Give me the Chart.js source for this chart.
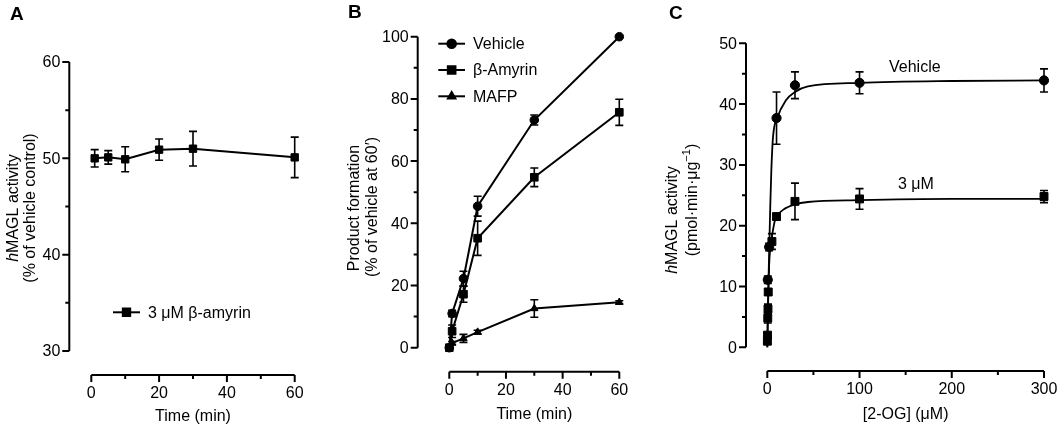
<!DOCTYPE html>
<html>
<head>
<meta charset="utf-8">
<script src="https://cdn.jsdelivr.net/npm/chart.js@4.4.0/dist/chart.umd.min.js"></script>
<style>
  body { margin: 0; background: #fff; width: 1060px; height: 428px; overflow: hidden; position: relative; }
  canvas { position: absolute; top: 0; }
</style>
</head>
<body>
<canvas id="chart-a" width="340" height="428" style="left:0"></canvas>
<canvas id="chart-b" width="340" height="428" style="left:340px"></canvas>
<canvas id="chart-c" width="405" height="428" style="left:655px"></canvas>
<script>
const FONT = '"Liberation Sans", Arial, Helvetica, sans-serif';

// --- panel A: beta-amyrin time course
const timeA = [1, 5, 10, 20, 30, 60];
const amyrinA = [50.0, 50.1, 49.9, 50.9, 51.0, 50.1];
const amyrinErrA = [0.9, 0.7, 1.3, 1.1, 1.8, 2.1];
const yTicksA = [30, 40, 50, 60];
const yMinorA = [35, 45, 55];
const xTicksA = [0, 20, 40, 60];
const xMinorA = [10, 30, 50];

// --- panel B: product formation
const timeB = [0, 1, 5, 10, 30, 60];
const vehicleB = [0, 11.0, 22.2, 45.5, 73.2, 100];
const vehicleErrB = [0, 1.0, 2.4, 3.2, 1.6, 0];
const amyrinB = [0, 5.3, 17.2, 35.2, 54.8, 75.7];
const amyrinErrB = [0, 2.0, 2.6, 5.5, 3.0, 4.2];
const mafpB = [0, 1.5, 3.0, 5.0, 12.6, 14.6];
const mafpErrB = [0, 0.5, 1.3, 0.6, 2.8, 0.5];
const yTicksB = [0, 20, 40, 60, 80, 100];
const yMinorB = [10, 30, 50, 70, 90];
const xTicksB = [0, 20, 40, 60];
const xMinorB = [10, 30, 50];

// --- panel C: 2-OG saturation
const ogVehicle = [0.5, 2, 10, 30, 100, 300];
const vehicleC = [11.1, 16.5, 37.7, 43.1, 43.5, 43.9];
const vehicleErrC = [0.6, 0.6, 4.3, 2.2, 1.8, 1.9];
const ogAmyrin = [0.1, 0.25, 0.5, 0.75, 1, 5, 10, 30, 100, 300];
const amyrinC = [1.0, 2.0, 4.8, 6.3, 9.1, 17.4, 21.5, 24.0, 24.4, 24.8];
const amyrinErrC = [0.4, 0.4, 0.8, 0.8, 0.5, 1.3, 0.5, 3.0, 1.7, 1.0];
const fitOgVehicle = [0, 1, 2, 2.6, 3.3, 4.4, 6.2, 10.8, 20, 30, 44, 100, 200, 300];
const fitVehicle = [0, 9, 15.5, 19.3, 23.7, 29.2, 34.6, 37.7, 40.6, 42.0, 42.9, 43.5, 43.8, 43.9];
const fitOgAmyrin = [0, 1, 2, 3, 4.4, 6.2, 8, 11.6, 17, 30, 44, 100, 200, 300];
const fitAmyrin = [0, 8, 13.5, 16, 17.6, 19.3, 20.7, 21.8, 22.6, 23.5, 23.9, 24.2, 24.4, 24.4];
const yTicksC = [0, 10, 20, 30, 40, 50];
const yMinorC = [5, 15, 25, 35, 45];
const xTicksC = [0, 100, 200, 300];
const xMinorC = [50, 150, 250];

function pts(xs, ys) {
  return xs.map((x, i) => ({ x: x, y: ys[i] }));
}

// draws rotated/mixed text made of segments [{t, italic, sup}]
function drawRich(ctx, segs, cx, cy, size) {
  const f = (s) => (s.italic ? 'italic ' : '') + (s.sup ? Math.round(size * 0.68) : size) + 'px ' + FONT;
  let w = 0;
  segs.forEach(s => { ctx.font = f(s); w += ctx.measureText(s.t).width; });
  let x = cx - w / 2;
  ctx.textBaseline = 'middle';
  ctx.textAlign = 'left';
  segs.forEach(s => {
    ctx.font = f(s);
    ctx.fillText(s.t, x, s.sup ? cy - size * 0.38 : cy);
    x += ctx.measureText(s.t).width;
  });
}

const panelPlugin = {
  id: 'panel',
  beforeDatasetsDraw(chart) {
    const { ctx, scales: { x, y } } = chart;
    ctx.save();
    ctx.strokeStyle = '#000';
    ctx.lineWidth = 1.6;
    chart.data.datasets.forEach(ds => {
      if (!ds.errors) return;
      const cap = ds.capWidth || 4;
      ds.data.forEach((p, i) => {
        const e = ds.errors[i];
        if (!e) return;
        const px = x.getPixelForValue(p.x);
        const top = y.getPixelForValue(p.y + e);
        const bot = y.getPixelForValue(p.y - e);
        ctx.beginPath();
        ctx.moveTo(px, top); ctx.lineTo(px, bot);
        ctx.moveTo(px - cap, top); ctx.lineTo(px + cap, top);
        ctx.moveTo(px - cap, bot); ctx.lineTo(px + cap, bot);
        ctx.stroke();
      });
    });
    ctx.restore();
  },
  afterDraw(chart, args, o) {
    const { ctx, scales: { x, y } } = chart;
    ctx.save();
    ctx.fillStyle = '#000';
    ctx.strokeStyle = '#000';
    ctx.lineWidth = 2;

    // y axis
    const yl = o.yLine;
    ctx.beginPath();
    ctx.moveTo(yl, y.getPixelForValue(o.yTicks[0]));
    ctx.lineTo(yl, y.getPixelForValue(o.yTicks[o.yTicks.length - 1]));
    o.yTicks.forEach(v => { const py = y.getPixelForValue(v); ctx.moveTo(yl - 7, py); ctx.lineTo(yl, py); });
    o.yMinor.forEach(v => { const py = y.getPixelForValue(v); ctx.moveTo(yl - 4, py); ctx.lineTo(yl, py); });
    // x axis
    const xl = o.xLine;
    ctx.moveTo(x.getPixelForValue(o.xTicks[0]), xl);
    ctx.lineTo(x.getPixelForValue(o.xTicks[o.xTicks.length - 1]), xl);
    o.xTicks.forEach(v => { const px = x.getPixelForValue(v); ctx.moveTo(px, xl); ctx.lineTo(px, xl + 7); });
    o.xMinor.forEach(v => { const px = x.getPixelForValue(v); ctx.moveTo(px, xl); ctx.lineTo(px, xl + 4); });
    ctx.stroke();

    ctx.font = '16px ' + FONT;
    ctx.textAlign = 'right';
    ctx.textBaseline = 'middle';
    o.yTicks.forEach(v => ctx.fillText(String(v), yl - 9, y.getPixelForValue(v) + 1));
    ctx.textAlign = 'center';
    o.xTicks.forEach(v => ctx.fillText(String(v), x.getPixelForValue(v), xl + 19));

    // x title
    ctx.fillText(o.xTitle, (x.getPixelForValue(o.xTicks[0]) + x.getPixelForValue(o.xTicks[o.xTicks.length - 1])) / 2, o.xTitleY);

    // y title (rotated)
    o.yTitle.forEach(line => {
      ctx.save();
      ctx.translate(line.x, line.y);
      ctx.rotate(-Math.PI / 2);
      drawRich(ctx, line.segs, 0, 0, 16);
      ctx.restore();
    });

    // panel letter
    ctx.font = 'bold 19px ' + FONT;
    ctx.textAlign = 'left';
    ctx.textBaseline = 'alphabetic';
    ctx.fillText(o.letter.t, o.letter.x, o.letter.y);

    // legend entries: line + marker + text
    (o.legend || []).forEach(item => {
      const ds = chart.data.datasets[item.dataset];
      ctx.lineWidth = ds.borderWidth;
      ctx.beginPath();
      ctx.moveTo(item.x, item.y); ctx.lineTo(item.x + item.len, item.y);
      ctx.stroke();
      Chart.helpers.drawPoint(ctx, { pointStyle: ds.pointStyle, radius: ds.pointRadius, rotation: 0, borderWidth: 1 }, item.x + item.len / 2, item.y);
      ctx.fill();
      ctx.font = '16px ' + FONT;
      ctx.textBaseline = 'middle';
      ctx.fillText(item.text, item.x + item.len + 8, item.y + 1);
    });

    // free labels
    ctx.font = '16px ' + FONT;
    ctx.textAlign = 'left';
    ctx.textBaseline = 'middle';
    (o.labels || []).forEach(l => ctx.fillText(l.t, l.x, l.y));
    ctx.restore();
  }
};

function series(data, style, radius, errors, extra) {
  return Object.assign({
    data: data,
    showLine: true,
    borderColor: '#000',
    backgroundColor: '#000',
    borderWidth: 2,
    pointStyle: style,
    pointRadius: radius,
    pointBackgroundColor: '#000',
    pointBorderColor: '#000',
    pointBorderWidth: 1,
    errors: errors,
    capWidth: 4,
    clip: false,
    tension: 0
  }, extra || {});
}

function makeChart(id, datasets, xr, yr, padding, panel) {
  return new Chart(document.getElementById(id), {
    type: 'scatter',
    data: { datasets: datasets },
    options: {
      responsive: false,
      animation: false,
      events: [],
      layout: { padding: padding },
      scales: {
        x: { type: 'linear', min: xr[0], max: xr[1], display: false },
        y: { type: 'linear', min: yr[0], max: yr[1], display: false }
      },
      plugins: { legend: { display: false }, tooltip: { enabled: false }, panel: panel }
    },
    plugins: [panelPlugin]
  });
}

// A
makeChart('chart-a',
  [series(pts(timeA, amyrinA), 'rect', 5.2, amyrinErrA)],
  [0, 60], [30, 60],
  { left: 91.3, right: 45.3, top: 62, bottom: 77 },
  {
    yLine: 69.3, xLine: 375,
    yTicks: yTicksA, yMinor: yMinorA, xTicks: xTicksA, xMinor: xMinorA,
    xTitle: 'Time (min)', xTitleY: 417,
    yTitle: [
      { x: 13.5, y: 208, segs: [{ t: 'h', italic: true }, { t: 'MAGL activity' }] },
      { x: 31, y: 208, segs: [{ t: '(% of vehicle control)' }] }
    ],
    letter: { t: 'A', x: 10, y: 20 },
    legend: [{ dataset: 0, x: 113, y: 312.3, len: 27, text: '3 \u03bcM \u03b2-amyrin' }]
  });

// B
makeChart('chart-b',
  [
    series(pts(timeB, vehicleB), 'circle', 4.3, vehicleErrB),
    series(pts(timeB, amyrinB), 'rect', 5.4, amyrinErrB),
    series(pts(timeB, mafpB), 'triangle', 4.3, mafpErrB)
  ],
  [0, 60], [0, 100],
  { left: 109.3, right: 60.7, top: 36.7, bottom: 80.3 },
  {
    yLine: 77.7, xLine: 371.7,
    yTicks: yTicksB, yMinor: yMinorB, xTicks: xTicksB, xMinor: xMinorB,
    xTitle: 'Time (min)', xTitleY: 415,
    yTitle: [
      { x: 15, y: 208, segs: [{ t: 'Product formation' }] },
      { x: 33, y: 207, segs: [{ t: '(% of vehicle at 60\u2032)' }] }
    ],
    letter: { t: 'B', x: 8, y: 18 },
    legend: [
      { dataset: 0, x: 98.3, y: 43.7, len: 26.7, text: 'Vehicle' },
      { dataset: 1, x: 98.3, y: 70, len: 26.7, text: '\u03b2-Amyrin' },
      { dataset: 2, x: 98.3, y: 96.3, len: 26.7, text: 'MAFP' }
    ]
  });

// C
makeChart('chart-c',
  [
    series(pts(fitOgVehicle, fitVehicle), 'circle', 0, null, { borderWidth: 1.8, cubicInterpolationMode: 'monotone' }),
    series(pts(fitOgAmyrin, fitAmyrin), 'circle', 0, null, { borderWidth: 1.8, cubicInterpolationMode: 'monotone' }),
    series(pts(ogVehicle, vehicleC), 'circle', 4.6, vehicleErrC, { showLine: false }),
    series(pts(ogAmyrin, amyrinC), 'rect', 5.6, amyrinErrC, { showLine: false })
  ],
  [0, 300], [0, 50],
  { left: 112.3, right: 16, top: 43.3, bottom: 80.7 },
  {
    yLine: 91, xLine: 371,
    yTicks: yTicksC, yMinor: yMinorC, xTicks: xTicksC, xMinor: xMinorC,
    xTitle: '[2-OG] (\u03bcM)', xTitleY: 415,
    yTitle: [
      { x: 18, y: 220, segs: [{ t: 'h', italic: true }, { t: 'MAGL activity' }] },
      { x: 38, y: 200, segs: [{ t: '(pmol\u00b7min\u00b7\u03bcg' }, { t: '\u22121', sup: true }, { t: ')' }] }
    ],
    letter: { t: 'C', x: 14, y: 19 },
    labels: [
      { t: 'Vehicle', x: 889, y: 68 },
      { t: '3 \u03bcM', x: 898, y: 185 }
    ].map(l => ({ t: l.t, x: l.x - 655, y: l.y }))
  });
</script>
</body>
</html>
